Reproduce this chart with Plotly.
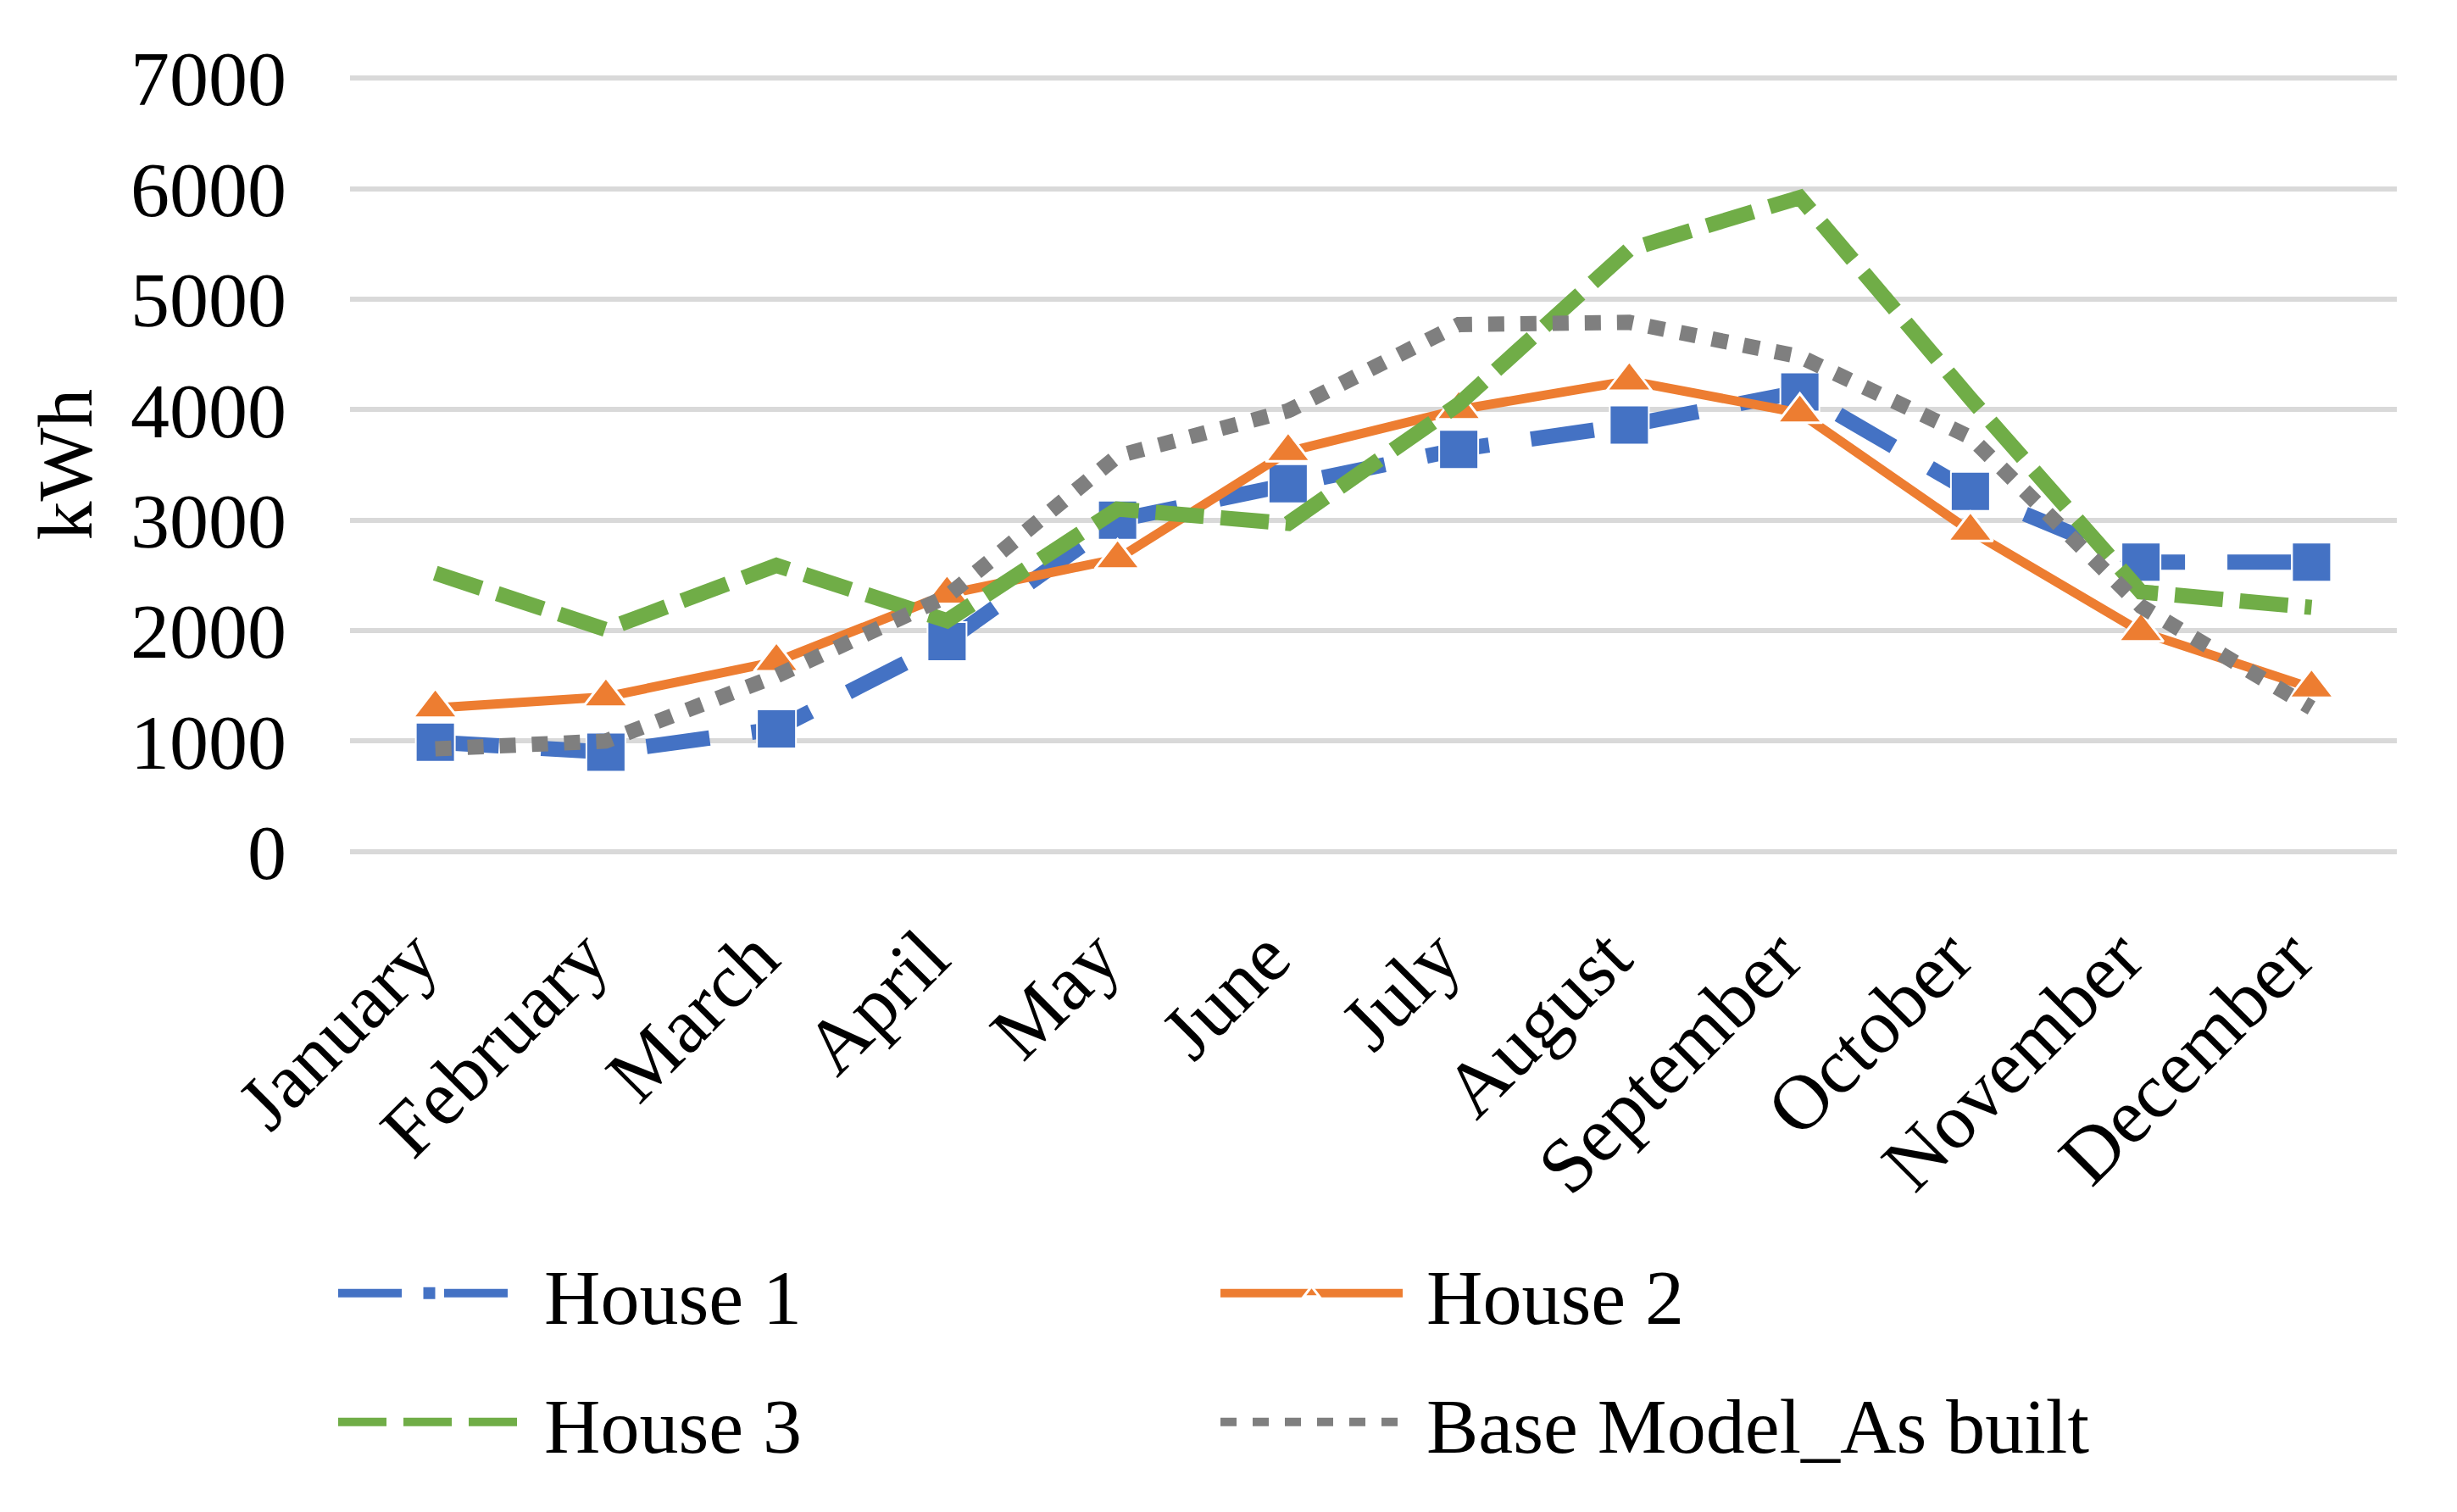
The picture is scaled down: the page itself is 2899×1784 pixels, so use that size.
import plotly.graph_objects as go

months = ["January", "February", "March", "April", "May", "June", "July",
          "August", "September", "October", "November", "December"]
house1 = [990, 900, 1110, 1900, 3000, 3330, 3640, 3860, 4160, 3260, 2620, 2620]
house2 = [1300, 1400, 1720, 2330, 2650, 3620, 4000, 4260, 3970, 2900, 1990, 1480]
house3 = [2520, 2010, 2590, 2090, 3100, 2970, 4050, 5450, 5920, 4100, 2350, 2210]
base_model = [930, 1000, 1590, 2310, 3580, 3990, 4770, 4790, 4480, 3750, 2220, 1300]
y_ticks = [0, 1000, 2000, 3000, 4000, 5000, 6000, 7000]

W, H = 2899, 1784
L, R, T, B = 413, 71, 89, 776
FONT = "Liberation Serif, Times New Roman, serif"
FS = 92
NB = "\u00a0"

fig = go.Figure()
fig.add_trace(go.Scatter(
    x=months, y=house1, name=NB + "House 1", mode="lines+markers",
    line=dict(color="#4472C4", width=18, dash="75px,50px"),
    marker=dict(symbol="square", size=46, color="#4472C4",
                line=dict(color="white", width=2)),
    legend="legend"))
fig.add_trace(go.Scatter(
    x=months, y=house2, name=NB + "House 2", mode="lines+markers",
    line=dict(color="#ED7D31", width=11),
    marker=dict(symbol="triangle-up", size=46, color="#ED7D31",
                line=dict(color="white", width=3)),
    legend="legend"))
fig.add_trace(go.Scatter(
    x=months, y=house3, name=NB + "House 3", mode="lines",
    line=dict(color="#70AD47", width=18, dash="57px,20px"),
    legend="legend2"))
fig.add_trace(go.Scatter(
    x=months, y=base_model, name=NB + "Base Model_As built", mode="lines",
    line=dict(color="#7F7F7F", width=18, dash="19px,19px"),
    legend="legend2"))

legend_common = dict(
    orientation="h", xref="container", yref="container",
    xanchor="left", yanchor="middle", font=dict(family=FONT, size=FS, color="black"),
    itemwidth=215, entrywidth=811, bgcolor="rgba(0,0,0,0)", tracegroupgap=0)

fig.update_layout(
    width=W, height=H,
    margin=dict(l=L, r=R, t=T, b=B, autoexpand=False),
    plot_bgcolor="white", paper_bgcolor="white",
    font=dict(family=FONT, size=FS, color="black"),
    showlegend=True,
    legend=dict(x=394 / W, y=1 - 1526 / H, **legend_common),
    legend2=dict(x=394 / W, y=1 - 1678 / H, **legend_common),
    xaxis=dict(
        type="category", range=[-0.5, 11.5], showgrid=False, showline=False,
        zeroline=False, ticks="", tickangle=-45, ticklabelstandoff=48,
        ticklabelshift=-25,
        tickfont=dict(family=FONT, size=FS, color="black"), automargin=False),
    yaxis=dict(
        range=[-25, 7025], tickvals=y_ticks, showgrid=True, gridcolor="#D9D9D9",
        gridwidth=6, zeroline=False, showline=False, ticks="",
        ticklabelstandoff=74,
        tickfont=dict(family=FONT, size=FS, color="black"), automargin=False),
    annotations=[dict(
        text="kWh", textangle=-90, xref="paper", yref="paper",
        x=(76 - L) / (W - L - R), y=0.5, xanchor="center", yanchor="middle",
        showarrow=False, font=dict(family=FONT, size=FS, color="black"))],
)

fig.write_html("out.html",
               config={"displayModeBar": False},
               post_script="document.body.style.margin='0px';"
                           "document.body.style.overflow='hidden';")
